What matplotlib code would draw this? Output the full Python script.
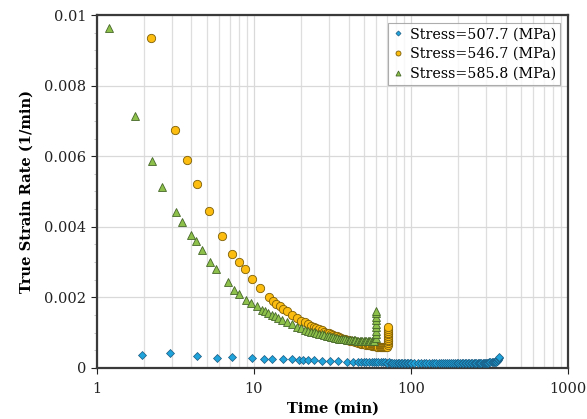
import matplotlib
matplotlib.use("Agg")
from matplotlib import pyplot as plt
from matplotlib.ticker import FixedLocator, MultipleLocator, NullFormatter

# ===== DATA =====
labels = ["Stress=507.7 (MPa)", "Stress=546.7 (MPa)", "Stress=585.8 (MPa)"]

time_507 = [1.94, 2.90, 4.36, 5.81, 7.28, 9.71, 11.6, 13.1, 15.4, 17.4, 19.4, 20.6, 22.2, 24.2,
            27.0, 30.5, 34.3, 38.9, 42.9,
            46, 48, 50, 52, 54, 56, 58, 60, 62, 64, 66, 68, 70, 72, 74, 76, 78, 80, 82, 84, 86,
            88, 90, 92, 94, 96, 98, 100,
            105, 110, 115, 120, 125, 130, 135, 140, 145, 150, 155, 160, 165, 170, 175, 180, 185,
            190, 195, 200, 205, 210, 215, 220, 225, 230, 235, 240, 245, 250, 255, 260, 265, 270,
            275, 280, 285, 290, 295, 300, 305, 310, 315, 320, 325, 330, 335, 340, 345, 350, 354,
            357, 359, 360, 361]
rate_507 = [0.00037, 0.00042, 0.00034, 0.00029, 0.00030, 0.00028, 0.00025, 0.00026, 0.00024, 0.00024,
            0.00023, 0.00023, 0.00023, 0.00021, 0.00020, 0.00019, 0.00019, 0.00018, 0.00017,
            0.00017, 0.00017, 0.00017, 0.00016, 0.00016, 0.00016, 0.00016, 0.00016, 0.00016,
            0.00016, 0.00016, 0.00016, 0.00015, 0.00016, 0.00015, 0.00015, 0.00015, 0.00015,
            0.00015, 0.00015, 0.00015, 0.00015, 0.00015, 0.00015, 0.00015, 0.00015, 0.00015,
            0.00015,
            0.00015, 0.00015, 0.00014, 0.00014, 0.00014, 0.00014, 0.00014, 0.00014, 0.00014,
            0.00014, 0.00014, 0.00014, 0.00014, 0.00014, 0.00014, 0.00014, 0.00014, 0.00014,
            0.00014, 0.00014, 0.00014, 0.00014, 0.00014, 0.00014, 0.00014, 0.00014, 0.00015,
            0.00015, 0.00015, 0.00015, 0.00015, 0.00015, 0.00015, 0.00015, 0.00015, 0.00015,
            0.00015, 0.00015, 0.00015, 0.00015, 0.00015, 0.00015, 0.00016, 0.00016, 0.00016,
            0.00016, 0.00017, 0.00017, 0.00018, 0.00019, 0.00020, 0.00022, 0.00024, 0.00027,
            0.00031]

time_546 = [2.21, 3.14, 3.74, 4.31, 5.14, 6.22, 7.28, 8.02, 8.76, 9.67, 10.9, 12.5, 13.3, 13.9,
            14.6, 15.4, 16.3, 17.4, 18.7,
            20, 21, 22, 23, 24, 25, 26, 27, 28, 29, 30, 31, 32, 33, 34, 35, 36, 37, 38, 39, 40,
            41, 42, 43, 44, 45, 46, 47, 48, 49, 50, 51, 52, 53, 54, 55, 56, 57, 58, 59, 60, 61,
            62, 63, 64, 65, 66, 67, 68, 69, 70,
            71.1, 71.1, 71.1, 71.1, 71.1, 71.1, 71.1, 71.1, 71.1, 71.1, 71.1]
rate_546 = [0.00934, 0.00673, 0.00588, 0.00522, 0.00445, 0.00374, 0.00324, 0.00299, 0.00279,
            0.00252, 0.00226, 0.00200, 0.00190, 0.00182, 0.00176, 0.00168, 0.00160, 0.00149,
            0.00142,
            0.00134, 0.00129, 0.00124, 0.00120, 0.00116, 0.00113, 0.00110, 0.00106, 0.00103,
            0.00100, 0.00098, 0.00095, 0.00093, 0.00091, 0.00089, 0.00087, 0.00085, 0.00083,
            0.00081, 0.00079, 0.00078, 0.00077, 0.00076, 0.00075, 0.00074, 0.00072, 0.00071,
            0.00070, 0.00069, 0.00068, 0.00068, 0.00067, 0.00066, 0.00065, 0.00065, 0.00064,
            0.00063, 0.00062, 0.00062, 0.00061, 0.00061, 0.00060, 0.00060, 0.00059, 0.00059,
            0.00059, 0.00059, 0.00059, 0.00059, 0.00059, 0.00060,
            0.00065, 0.00070, 0.00075, 0.00080, 0.00085, 0.00090, 0.00095, 0.00100, 0.00105,
            0.00110, 0.00117]

time_585 = [1.19, 1.74, 2.23, 2.61, 3.17, 3.48, 3.95, 4.27, 4.67, 5.22, 5.73, 6.79, 7.50, 7.98,
            8.93, 9.57, 10.4, 11.2, 11.7, 12.3, 13.0, 13.6, 14.3, 15.0, 16.2, 17.4, 18.7,
            20, 21, 22, 23, 24, 25, 26, 27, 28, 29, 30, 31, 32, 33, 34, 35, 36, 37, 38, 39, 40,
            41, 42, 43, 44, 45, 46, 47, 48, 49, 50, 51, 52, 53, 54, 55, 56, 57, 58,
            59.4, 59.4, 59.4, 59.4, 59.4, 59.4, 59.4, 59.4, 59.4]
rate_585 = [0.00962, 0.00715, 0.00586, 0.00513, 0.00442, 0.00413, 0.00378, 0.00359, 0.00333,
            0.00301, 0.00279, 0.00244, 0.00222, 0.00210, 0.00192, 0.00184, 0.00174, 0.00165,
            0.00160, 0.00155, 0.00150, 0.00146, 0.00141, 0.00136, 0.00131, 0.00125, 0.00117,
            0.00112, 0.00108, 0.00105, 0.00103, 0.00101, 0.00099, 0.00097, 0.00095, 0.00093,
            0.00091, 0.00090, 0.00088, 0.00087, 0.00085, 0.00084, 0.00083, 0.00082, 0.00081,
            0.00081, 0.00080, 0.00079, 0.00079, 0.00078, 0.00078, 0.00078, 0.00077, 0.00077,
            0.00077, 0.00077, 0.00077, 0.00077, 0.00077, 0.00077, 0.00077, 0.00077, 0.00077,
            0.00077, 0.00077, 0.00077,
            0.00085, 0.00095, 0.00105, 0.00115, 0.00125, 0.00135, 0.00145, 0.00155, 0.00162]

x_ticks = [1, 10, 100, 1000]
y_ticks = [0, 0.002, 0.004, 0.006, 0.008, 0.01]
y_tick_labels = ["0", "0.002", "0.004", "0.006", "0.008", "0.01"]

# ===== WYKRES =====
plt.rcParams["font.family"] = "DejaVu Serif"

fig = plt.figure(figsize=(5.87, 4.19), dpi=100)
ax = fig.add_axes([0.165, 0.122, 0.803, 0.842])

ax.plot(time_507, rate_507, linestyle="none", marker="D", markersize=4.3,
        markerfacecolor="#1fa3da", markeredgecolor="#1a5a80", markeredgewidth=0.5,
        label=labels[0], zorder=3)
ax.plot(time_546, rate_546, linestyle="none", marker="o", markersize=6,
        markerfacecolor="#fcbc10", markeredgecolor="#7d5f08", markeredgewidth=0.6,
        label=labels[1], zorder=3)
ax.plot(time_585, rate_585, linestyle="none", marker="^", markersize=6,
        markerfacecolor="#8cc04a", markeredgecolor="#46672a", markeredgewidth=0.6,
        label=labels[2], zorder=4)

ax.set_xscale("log")
ax.set_xlim(1, 1000)
ax.set_ylim(0, 0.01)
ax.xaxis.set_major_locator(FixedLocator(x_ticks))
ax.set_xticklabels([str(t) for t in x_ticks])
ax.xaxis.set_minor_formatter(NullFormatter())
ax.set_yticks(y_ticks)
ax.set_yticklabels(y_tick_labels)
ax.yaxis.set_minor_locator(MultipleLocator(0.0005))

ax.grid(True, which="major", color="#d9d9d9", linewidth=0.9)
ax.grid(True, which="minor", axis="x", color="#dedede", linewidth=0.9)
ax.set_axisbelow(True)

ax.tick_params(axis="both", which="major", labelsize=10.5, colors="#222222", length=4, width=0.8)
ax.tick_params(axis="x", which="minor", length=0)
ax.tick_params(axis="y", which="minor", length=2.5, width=0.6, color="#bbbbbb")
ax.tick_params(axis="x", which="major", pad=6)

for side in ["left", "bottom", "top", "right"]:
    ax.spines[side].set_color("#3a3a3a")
    ax.spines[side].set_linewidth(1.6)

ax.set_xlabel("Time (min)", fontweight="bold", fontsize=10.5, labelpad=4)
ax.set_ylabel("True Strain Rate (1/min)", fontweight="bold", fontsize=10.5, labelpad=8)

leg = ax.legend(loc="upper right", fontsize=10.3, markerscale=0.6, frameon=True, fancybox=False,
                handlelength=0.8, handletextpad=0.4, borderpad=0.3, labelspacing=0.4,
                borderaxespad=0.55)
leg.get_frame().set_edgecolor("#999999")
leg.get_frame().set_linewidth(0.8)

fig.savefig("out.png", dpi=100)
plt.close()
